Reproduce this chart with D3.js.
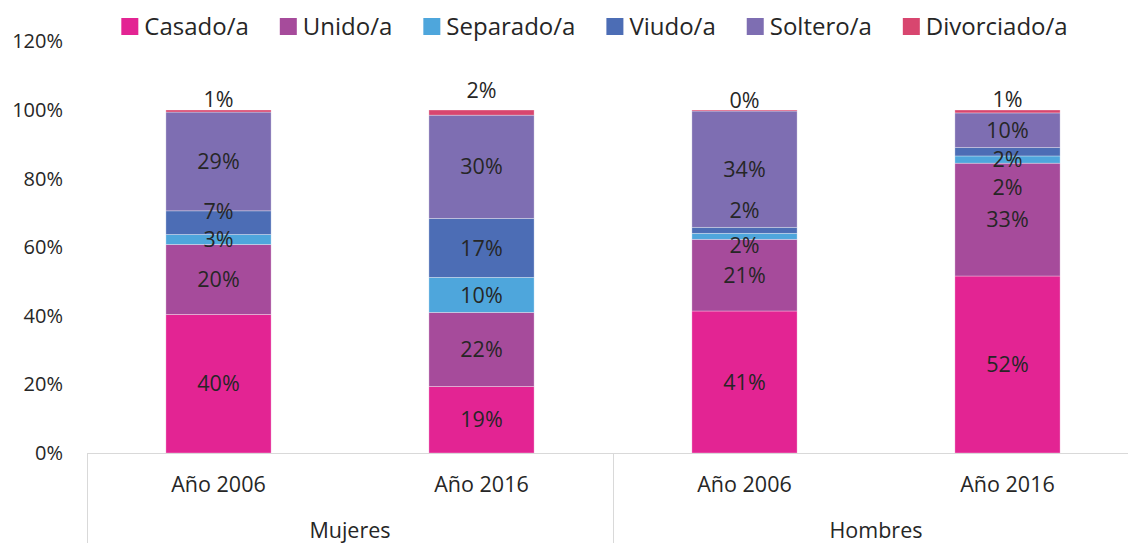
<!DOCTYPE html>
<html>
<head>
<meta charset="utf-8">
<style>
  body { margin: 0; background: #fff; }
  svg text { font-family: "Open Sans", sans-serif; fill: #262626; }
</style>
</head>
<body>
<div id="container"></div>
<script src="https://d3js.org/d3.v7.js"></script>
<script>

// Data (percent of each bar)
const groups = ["Mujeres", "Hombres"];
const years = ["Año 2006", "Año 2016"];
const seriesNames = ["Casado/a", "Unido/a", "Separado/a", "Viudo/a", "Soltero/a", "Divorciado/a"];
const casado     = [40.4, 19.4, 41.4, 51.6];
const unido      = [20.4, 21.6, 20.9, 32.9];
const separado   = [2.9, 10.2, 1.75, 2.1];
const viudo      = [6.9, 17.2, 1.75, 2.45];
const soltero    = [28.8, 30.1, 33.9, 10.1];
const divorciado = [0.6, 1.5, 0.3, 0.85];
const yTicks = [0, 20, 40, 60, 80, 100, 120];

const colors = ["#E32493", "#A64B9B", "#4EA6DC", "#4C6DB5", "#7E6EB2", "#D8466F"];

// manual label shifts (bar-series) in px, like the hand-moved labels of the original
const labelShift = {"0-3": -11, "0-5": -12, "1-5": -22, "2-2": 9, "2-3": -20, "2-5": -10, "3-3": 36, "3-5": -12};

const width = 1128;
const height = 543;
const marginLeft = 87;
const plotRight = 1139;
const y0 = 453;

const allSeries = [casado, unido, separado, viudo, soltero, divorciado];
const bars = [];
groups.forEach(g => years.forEach(yr => bars.push({group: g, year: yr})));
const table = bars.map((b, i) => {
  const row = {id: i};
  seriesNames.forEach((s, j) => row[s] = allSeries[j][i]);
  return row;
});

const stacked = d3.stack().keys(seriesNames)(table);

const x = d3.scaleBand()
    .domain(d3.range(bars.length))
    .range([marginLeft, plotRight])
    .paddingInner(0.6)
    .paddingOuter(0.3);

const xGroup = d3.scaleBand()
    .domain(groups)
    .range([marginLeft, plotRight]);

const y = d3.scaleLinear()
    .domain([0, 120])
    .range([y0, 41.4]);

const svg = d3.create("svg")
    .attr("width", width)
    .attr("height", height);
container.append(svg.node());

// y axis labels only
svg.append("g")
  .attr("transform", `translate(${marginLeft},0)`)
  .call(d3.axisLeft(y).tickValues(yTicks).tickFormat(d => d + "%").tickSize(0).tickPadding(24))
  .call(g => g.select(".domain").remove())
  .call(g => g.selectAll("text").attr("font-size", 20).attr("font-family", "Open Sans").attr("fill", "#262626"));

// bars
svg.append("g")
  .selectAll("g")
  .data(stacked)
  .join("g")
    .attr("fill", (d, i) => colors[i])
  .selectAll("rect")
  .data(d => d)
  .join("rect")
    .attr("x", d => x(d.data.id))
    .attr("y", d => y(d[1]))
    .attr("height", d => y(d[0]) - y(d[1]))
    .attr("width", x.bandwidth())
    .attr("stroke", "#fff")
    .attr("stroke-opacity", 0.45)
    .attr("stroke-width", 0.7);

// value labels
const labels = [];
stacked.forEach((s, j) => s.forEach((d, i) => {
  labels.push({
    x: x(i) + x.bandwidth() / 2,
    y: y((d[0] + d[1]) / 2) + (labelShift[i + "-" + j] || 0),
    text: Math.round(d[1] - d[0]) + "%"
  });
}));
svg.append("g")
  .selectAll("text")
  .data(labels)
  .join("text")
    .attr("x", d => d.x)
    .attr("y", d => d.y)
    .attr("dy", "0.357em")
    .attr("text-anchor", "middle")
    .attr("font-size", 21.5)
    .text(d => d.text);

// x axis: line, group separators, labels
const axisColor = "#D9D9D9";
svg.append("line")
  .attr("x1", marginLeft).attr("x2", plotRight)
  .attr("y1", y0 + 0.5).attr("y2", y0 + 0.5)
  .attr("stroke", axisColor);

svg.append("g")
  .selectAll("line")
  .data(groups.concat(["end"]))
  .join("line")
    .attr("x1", (d, i) => Math.round(marginLeft + i * xGroup.step()) + 0.5)
    .attr("x2", (d, i) => Math.round(marginLeft + i * xGroup.step()) + 0.5)
    .attr("y1", y0)
    .attr("y2", height)
    .attr("stroke", axisColor);

svg.append("g")
  .selectAll("text")
  .data(bars)
  .join("text")
    .attr("x", (d, i) => x(i) + x.bandwidth() / 2)
    .attr("y", 484)
    .attr("dy", "0.357em")
    .attr("text-anchor", "middle")
    .attr("font-size", 21.5)
    .text(d => d.year);

svg.append("g")
  .selectAll("text")
  .data(groups)
  .join("text")
    .attr("x", d => xGroup(d) + xGroup.bandwidth() / 2)
    .attr("y", 530)
    .attr("dy", "0.357em")
    .attr("text-anchor", "middle")
    .attr("font-size", 21.5)
    .text(d => d);

// legend, laid out in a row and centred
const legend = svg.append("g");
const items = legend.selectAll("g")
  .data(seriesNames)
  .join("g");
items.append("rect")
  .attr("width", 17).attr("height", 17)
  .attr("y", -8.5)
  .attr("fill", (d, i) => colors[i]);
items.append("text")
  .attr("x", 23)
  .attr("dy", "0.357em")
  .attr("font-size", 24)
  .text(d => d);

let cursor = 0;
items.each(function() {
  const w = 23 + d3.select(this).select("text").node().getComputedTextLength();
  d3.select(this).attr("transform", `translate(${cursor},0)`);
  cursor += w + 31;
});
const legendWidth = cursor - 31;
legend.attr("transform", `translate(${594.5 - legendWidth / 2},26.5)`);
</script>
</body>
</html>
